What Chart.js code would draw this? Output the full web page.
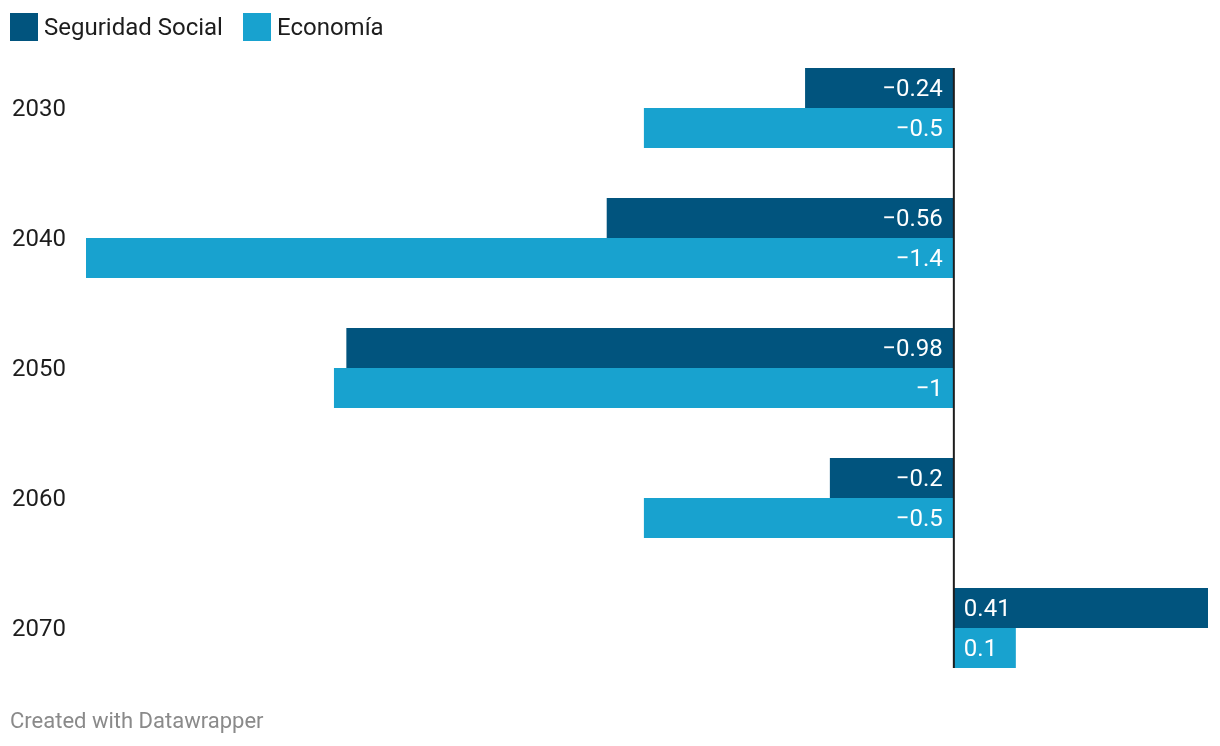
<!DOCTYPE html>
<html>
<head>
<meta charset="utf-8">
<script src="https://cdn.jsdelivr.net/npm/chart.js@4"></script>
<style>
  body { margin: 0; background: #fff; font-family: Roboto, "Noto Sans", sans-serif; }
  #wrap { position: relative; width: 1220px; height: 746px; }
  #chart { position: absolute; left: 0; top: 0; }
  .legend { position: absolute; top: 13px; left: 10px; display: flex; align-items: center; font-size: 24px; color: #1d1d1d; }
  .legend span.box { display: inline-block; width: 28px; height: 28px; margin-right: 6px; }
  .legend span.item { display: flex; align-items: center; margin-right: 20px; }
  .footer { position: absolute; left: 10px; top: 708px; font-size: 22px; color: #8a8a8a; }
</style>
</head>
<body>
<div id="wrap">
  <canvas id="chart" width="1220" height="746"></canvas>
  <div class="legend" id="legend"></div>
  <div class="footer">Created with Datawrapper</div>
</div>
<script>
const years = ["2030", "2040", "2050", "2060", "2070"];
const seguridadSocial = [-0.24, -0.56, -0.98, -0.2, 0.41];
const economia = [-0.5, -1.4, -1, -0.5, 0.1];
const seriesNames = ["Seguridad Social", "Economía"];
const seriesColors = ["#01547e", "#18a2cf"];

// legend
const legend = document.getElementById("legend");
seriesNames.forEach((name, i) => {
  const item = document.createElement("span");
  item.className = "item";
  item.innerHTML = "<span class='box' style='background:" + seriesColors[i] + "'></span>" + name;
  legend.appendChild(item);
});

function fmt(v) {
  return (v < 0 ? "\u2212" : "") + String(Math.abs(v));
}

const barLabels = {
  id: "barLabels",
  afterDatasetsDraw(chart) {
    const ctx = chart.ctx;
    const zero = chart.scales.x.getPixelForValue(0);
    ctx.save();
    ctx.font = "24px Roboto";
    ctx.fillStyle = "#fff";
    ctx.textBaseline = "middle";
    chart.data.datasets.forEach((ds, di) => {
      chart.getDatasetMeta(di).data.forEach((bar, i) => {
        const v = ds.data[i];
        if (v < 0) {
          ctx.textAlign = "right";
          ctx.fillText(fmt(v), zero - 11, bar.y + 2);
        } else {
          ctx.textAlign = "left";
          ctx.fillText(fmt(v), zero + 10, bar.y + 2);
        }
      });
    });
    // zero line
    const first = chart.getDatasetMeta(0).data[0];
    const lastMeta = chart.getDatasetMeta(chart.data.datasets.length - 1).data;
    const last = lastMeta[lastMeta.length - 1];
    ctx.strokeStyle = "#1d1d1d";
    ctx.lineWidth = 2;
    ctx.beginPath();
    ctx.moveTo(zero, first.y - first.height / 2);
    ctx.lineTo(zero, last.y + last.height / 2);
    ctx.stroke();
    ctx.restore();
  }
};

new Chart(document.getElementById("chart"), {
  type: "bar",
  data: {
    labels: years,
    datasets: [
      { label: seriesNames[0], data: seguridadSocial, backgroundColor: seriesColors[0] },
      { label: seriesNames[1], data: economia, backgroundColor: seriesColors[1] }
    ]
  },
  options: {
    indexAxis: "y",
    responsive: false,
    animation: false,
    devicePixelRatio: 1,
    layout: { padding: { left: 12, right: 12, top: 43, bottom: 53 } },
    datasets: { bar: { categoryPercentage: 80 / 130, barPercentage: 1 } },
    plugins: { legend: { display: false }, tooltip: { enabled: false } },
    scales: {
      x: { display: false, min: -1.4, max: 0.41 },
      y: {
        grid: { display: false },
        border: { display: false },
        afterFit(axis) { axis.width = 74; },
        ticks: { crossAlign: "far", labelOffset: 2, color: "#1d1d1d", font: { family: "Roboto", size: 24 }, padding: 0 }
      }
    }
  },
  plugins: [barLabels]
});
</script>
</body>
</html>
